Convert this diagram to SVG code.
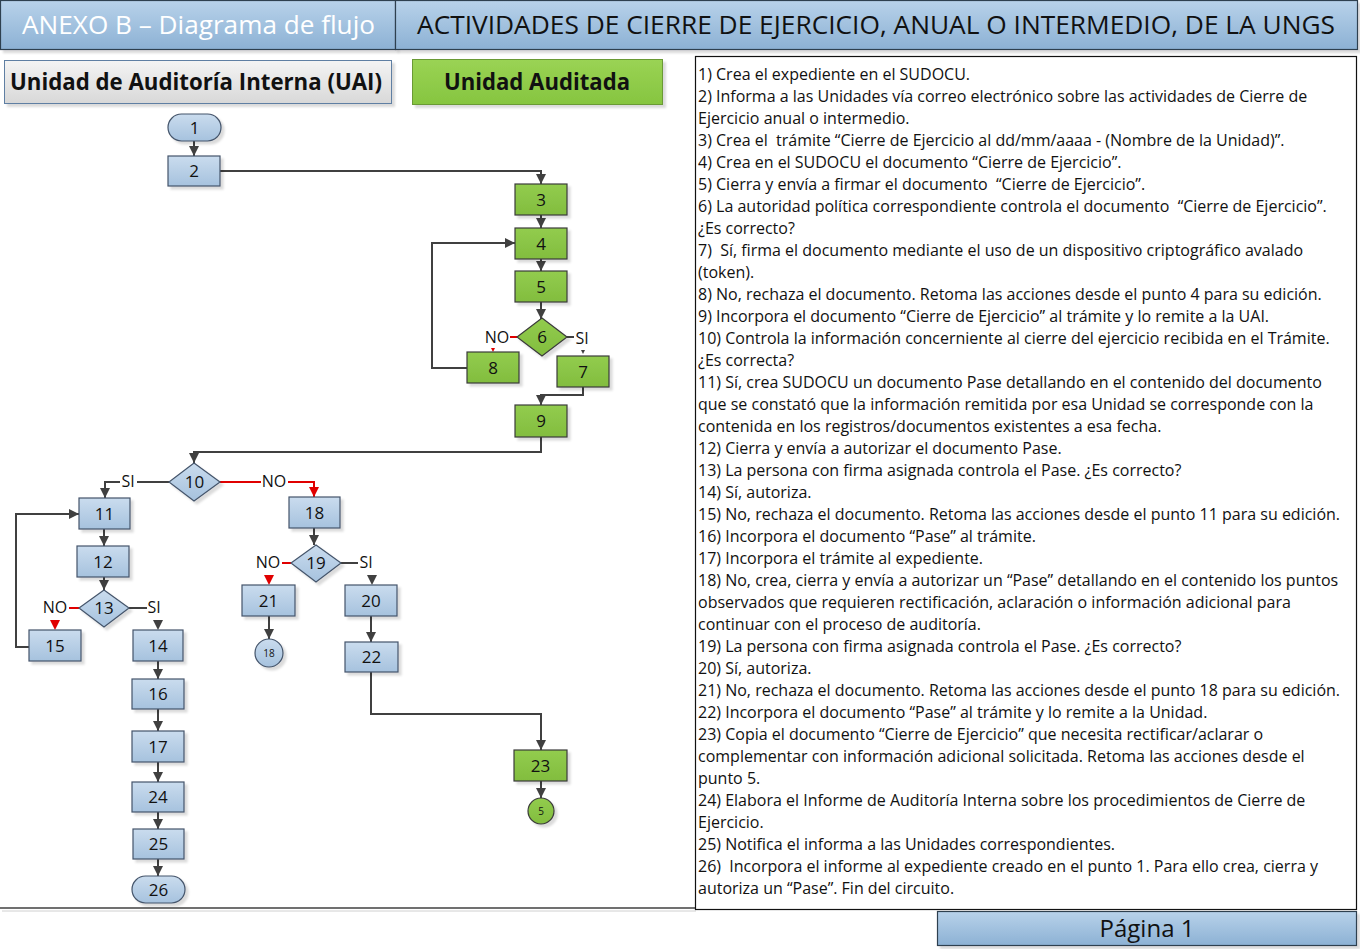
<svg xmlns="http://www.w3.org/2000/svg" width="1360" height="949" viewBox="0 0 1360 949">
<style>
.hdr{stroke:#2f3f4f;stroke-width:1.2}
.blue{fill:url(#gBlue);stroke:#44546a;stroke-width:1.2}
.green{fill:url(#gGreen);stroke:#3a3a3a;stroke-width:1.2}
.num{font-family:"Open Sans","Noto Sans",sans-serif;font-size:17px;fill:#111;text-anchor:middle;dominant-baseline:central}
.sm{font-family:"Open Sans","Noto Sans",sans-serif;font-size:10px;fill:#111;text-anchor:middle;dominant-baseline:central}
.lbl{font-family:"Open Sans","Noto Sans",sans-serif;font-size:16px;fill:#111;text-anchor:middle;dominant-baseline:central}
.c{fill:none;stroke:#404040;stroke-width:2}
.r{fill:none;stroke:#e00000;stroke-width:2}
.panel{font-family:"Open Sans","Noto Sans",sans-serif;font-size:16px;fill:#111}
.sh{filter:url(#shadow)}
</style>
<defs>
<linearGradient id="gBlue" x1="0" y1="0" x2="0" y2="1"><stop offset="0" stop-color="#cadcee"/><stop offset="1" stop-color="#a6c2de"/></linearGradient>
<linearGradient id="gGreen" x1="0" y1="0" x2="0" y2="1"><stop offset="0" stop-color="#92cc4e"/><stop offset="1" stop-color="#82bd3e"/></linearGradient>
<linearGradient id="gHdr" x1="0" y1="0" x2="0" y2="1"><stop offset="0" stop-color="#b8d2ea"/><stop offset="1" stop-color="#8cb1d4"/></linearGradient>
<linearGradient id="gGray" x1="0" y1="0" x2="0" y2="1"><stop offset="0" stop-color="#f4f4f4"/><stop offset="1" stop-color="#d8d8d8"/></linearGradient>
<linearGradient id="gLane" x1="0" y1="0" x2="0" y2="1"><stop offset="0" stop-color="#9ad354"/><stop offset="1" stop-color="#86c540"/></linearGradient>
<filter id="shadow" x="-20%" y="-20%" width="150%" height="150%"><feDropShadow dx="3" dy="3" stdDeviation="1.2" flood-color="#000" flood-opacity="0.14"/></filter>
<marker id="ar" viewBox="0 0 10 10" refX="10" refY="5" markerWidth="10" markerHeight="10" markerUnits="userSpaceOnUse" orient="auto"><path d="M0,0 L10,5 L0,10 z" fill="#404040"/></marker>
<marker id="arR" viewBox="0 0 10 10" refX="10" refY="5" markerWidth="10" markerHeight="10" markerUnits="userSpaceOnUse" orient="auto"><path d="M0,0 L10,5 L0,10 z" fill="#e00000"/></marker>
</defs>
<rect width="1360" height="949" fill="#fff"/>

<!-- Header -->
<g id="header">
<rect class="hdr sh" x="0.5" y="0.5" width="395" height="49" fill="url(#gHdr)"/>
<rect class="hdr sh" x="395.5" y="0.5" width="962" height="49" fill="url(#gHdr)"/>
<text x="22" y="24" font-family="'Open Sans','Noto Sans',sans-serif" font-size="26" fill="#fff" dominant-baseline="central" textLength="353" lengthAdjust="spacingAndGlyphs">ANEXO B – Diagrama de flujo</text>
<text x="417" y="24" font-family="'Open Sans','Noto Sans',sans-serif" font-size="26" fill="#111" dominant-baseline="central" textLength="918" lengthAdjust="spacingAndGlyphs">ACTIVIDADES DE CIERRE DE EJERCICIO, ANUAL O INTERMEDIO, DE LA UNGS</text>
</g>

<g id="lane-uai">
<rect class="sh" x="4.5" y="60.5" width="387" height="43" fill="url(#gGray)" stroke="#5f7fa3" stroke-width="1"/>
<text x="196" y="81" font-family="'Open Sans','Noto Sans',sans-serif" font-size="23" font-weight="bold" fill="#111" text-anchor="middle" dominant-baseline="central" textLength="372" lengthAdjust="spacingAndGlyphs">Unidad de Auditoría Interna (UAI)</text>
</g>
<g id="lane-auditada">
<rect class="sh" x="412.5" y="59.5" width="250" height="45" fill="url(#gLane)" stroke="#6a9a36" stroke-width="1"/>
<text x="537" y="81" font-family="'Open Sans','Noto Sans',sans-serif" font-size="23" font-weight="bold" fill="#111" text-anchor="middle" dominant-baseline="central" textLength="186" lengthAdjust="spacingAndGlyphs">Unidad Auditada</text>
</g>

<!-- Connectors -->
<g id="connectors">
<path class="c" d="M194,141 V156" marker-end="url(#ar)"/>
<path class="c" d="M220,171 H541 V184" marker-end="url(#ar)"/>
<path class="c" d="M541,215 V228" marker-end="url(#ar)"/>
<path class="c" d="M541,259 V271" marker-end="url(#ar)"/>
<path class="c" d="M541,302 V319" marker-end="url(#ar)"/>
<path class="r" d="M517,337 H510"/>
<path d="M491,348 L495,348 L493,352 z" fill="#e00000"/>
<path class="c" d="M567,337 H574"/>
<path d="M581,350 L585,350 L583,354 z" fill="#404040"/>
<path class="c" d="M467,368 H432 V243 H515" marker-end="url(#ar)"/>
<path class="c" d="M583,387 V395 H541 V405" marker-end="url(#ar)"/>
<path class="c" d="M541,437 V452 H194 V463" marker-end="url(#ar)"/>
<path class="c" d="M169,482 H137"/>
<path class="c" d="M120,482 H105 V498" marker-end="url(#ar)"/>
<path class="r" d="M220,482 H261"/>
<path class="r" d="M288,482 H314 V497" marker-end="url(#arR)"/>
<path class="c" d="M104,529 V546" marker-end="url(#ar)"/>
<path class="c" d="M104,577 V590" marker-end="url(#ar)"/>
<path class="r" d="M79,608 H69"/>
<path d="M50,620 L60,620 L55,630 z" fill="#e00000"/>
<path class="c" d="M129,608 H147"/>
<path d="M153,620 L163,620 L158,630 z" fill="#404040"/>
<path class="c" d="M29,647 H16 V514 H79" marker-end="url(#ar)"/>
<path class="c" d="M158,661 V679" marker-end="url(#ar)"/>
<path class="c" d="M158,709 V731" marker-end="url(#ar)"/>
<path class="c" d="M158,762 V782" marker-end="url(#ar)"/>
<path class="c" d="M158,812 V829" marker-end="url(#ar)"/>
<path class="c" d="M158,859 V876" marker-end="url(#ar)"/>
<path class="c" d="M314,528 V545" marker-end="url(#ar)"/>
<path class="r" d="M291,563 H282"/>
<path d="M264,575 L274,575 L269,585 z" fill="#e00000"/>
<path class="c" d="M341,563 H358"/>
<path d="M367,575 L377,575 L372,585 z" fill="#404040"/>
<path class="c" d="M269,616 V639" marker-end="url(#ar)"/>
<path class="c" d="M371,616 V642" marker-end="url(#ar)"/>
<path class="c" d="M371,672 V714 H541 V750" marker-end="url(#ar)"/>
<path class="c" d="M541,781 V798" marker-end="url(#ar)"/>
<text class="lbl" x="497" y="337">NO</text>
<text class="lbl" x="582" y="338">SI</text>
<text class="lbl" x="128" y="481">SI</text>
<text class="lbl" x="274" y="481">NO</text>
<text class="lbl" x="55" y="607">NO</text>
<text class="lbl" x="154" y="607">SI</text>
<text class="lbl" x="268" y="562">NO</text>
<text class="lbl" x="366" y="562">SI</text>
</g>

<!-- Nodes -->
<g id="n1"><rect class="blue sh" x="168" y="114" width="53" height="27" rx="13.5"/><text class="num" x="194.5" y="127">1</text></g>
<g id="n2"><rect class="blue sh" x="168" y="156" width="52" height="30"/><text class="num" x="194" y="170.5">2</text></g>
<g id="n3"><rect class="green sh" x="515" y="184" width="52" height="31"/><text class="num" x="541" y="199">3</text></g>
<g id="n4"><rect class="green sh" x="515" y="228" width="52" height="31"/><text class="num" x="541" y="243">4</text></g>
<g id="n5"><rect class="green sh" x="515" y="271" width="52" height="31"/><text class="num" x="541" y="286">5</text></g>
<g id="n6"><path class="green sh" d="M542,318 L567,337 L542,356 L517,337 z"/><text class="num" x="542" y="336.5">6</text></g>
<g id="n7"><rect class="green sh" x="557" y="356" width="52" height="31"/><text class="num" x="583" y="371">7</text></g>
<g id="n8"><rect class="green sh" x="467" y="352" width="52" height="31"/><text class="num" x="493" y="367">8</text></g>
<g id="n9"><rect class="green sh" x="515" y="405" width="52" height="32"/><text class="num" x="541" y="420.5">9</text></g>
<g id="n10"><path class="blue sh" d="M194,463 L220,482 L194,501 L169,482 z"/><text class="num" x="194.5" y="481.5">10</text></g>
<g id="n11"><rect class="blue sh" x="79" y="498" width="51" height="31"/><text class="num" x="104.5" y="513">11</text></g>
<g id="n12"><rect class="blue sh" x="77" y="546" width="52" height="31"/><text class="num" x="103" y="561">12</text></g>
<g id="n13"><path class="blue sh" d="M104,590 L129,608 L104,627 L79,608 z"/><text class="num" x="104" y="607.5">13</text></g>
<g id="n14"><rect class="blue sh" x="133" y="630" width="50" height="31"/><text class="num" x="158" y="645">14</text></g>
<g id="n15"><rect class="blue sh" x="29" y="630" width="52" height="31"/><text class="num" x="55" y="645">15</text></g>
<g id="n16"><rect class="blue sh" x="132" y="679" width="52" height="30"/><text class="num" x="158" y="693.5">16</text></g>
<g id="n17"><rect class="blue sh" x="132" y="731" width="52" height="31"/><text class="num" x="158" y="746">17</text></g>
<g id="n24"><rect class="blue sh" x="132" y="782" width="52" height="30"/><text class="num" x="158" y="796.5">24</text></g>
<g id="n25"><rect class="blue sh" x="133" y="829" width="51" height="30"/><text class="num" x="158.5" y="843.5">25</text></g>
<g id="n26"><rect class="blue sh" x="132" y="876" width="53" height="27" rx="13.5"/><text class="num" x="158.5" y="889">26</text></g>
<g id="n18"><rect class="blue sh" x="289" y="497" width="51" height="31"/><text class="num" x="314.5" y="512">18</text></g>
<g id="n19"><path class="blue sh" d="M316,545 L341,563 L316,582 L291,563 z"/><text class="num" x="316" y="562.5">19</text></g>
<g id="n20"><rect class="blue sh" x="345" y="585" width="52" height="31"/><text class="num" x="371" y="600">20</text></g>
<g id="n21"><rect class="blue sh" x="242" y="585" width="53" height="31"/><text class="num" x="268.5" y="600">21</text></g>
<g id="n22"><rect class="blue sh" x="345" y="642" width="53" height="30"/><text class="num" x="371.5" y="656.5">22</text></g>
<g id="n23"><rect class="green sh" x="514" y="750" width="53" height="31"/><text class="num" x="540.5" y="765">23</text></g>
<g id="c18"><circle class="blue sh" cx="269" cy="653" r="14"/><text class="sm" x="269" y="653">18</text></g>
<g id="c5"><circle class="green sh" cx="541" cy="811" r="13"/><text class="sm" x="541" y="811">5</text></g>

<!-- Bottom lines -->
<g id="footer">
<line x1="0" y1="908" x2="696" y2="908" stroke="#404040" stroke-width="1.5"/>
<line x1="2" y1="911" x2="696" y2="911" stroke="#d0d0d0" stroke-width="1"/>
<rect class="hdr sh" x="937.5" y="911.5" width="419" height="34" fill="url(#gHdr)"/>
<text x="1147" y="927" font-family="'Open Sans','Noto Sans',sans-serif" font-size="24" fill="#111" text-anchor="middle" dominant-baseline="central">Página 1</text>
</g>

<!-- Panel -->
<g id="panel">
<rect x="695.5" y="56.5" width="661" height="853" fill="#fff" stroke="#111" stroke-width="1.2"/>
<text class="panel" xml:space="preserve">
<tspan x="698" y="80">1) Crea el expediente en el SUDOCU.</tspan>
<tspan x="698" y="102">2) Informa a las Unidades vía correo electrónico sobre las actividades de Cierre de</tspan>
<tspan x="698" y="124">Ejercicio anual o intermedio.</tspan>
<tspan x="698" y="146">3) Crea el  trámite “Cierre de Ejercicio al dd/mm/aaaa - (Nombre de la Unidad)”.</tspan>
<tspan x="698" y="168">4) Crea en el SUDOCU el documento “Cierre de Ejercicio”.</tspan>
<tspan x="698" y="190">5) Cierra y envía a firmar el documento  “Cierre de Ejercicio”.</tspan>
<tspan x="698" y="212">6) La autoridad política correspondiente controla el documento  “Cierre de Ejercicio”.</tspan>
<tspan x="698" y="234">¿Es correcto?</tspan>
<tspan x="698" y="256">7)  Sí, firma el documento mediante el uso de un dispositivo criptográfico avalado</tspan>
<tspan x="698" y="278">(token).</tspan>
<tspan x="698" y="300">8) No, rechaza el documento. Retoma las acciones desde el punto 4 para su edición.</tspan>
<tspan x="698" y="322">9) Incorpora el documento “Cierre de Ejercicio” al trámite y lo remite a la UAI.</tspan>
<tspan x="698" y="344">10) Controla la información concerniente al cierre del ejercicio recibida en el Trámite.</tspan>
<tspan x="698" y="366">¿Es correcta?</tspan>
<tspan x="698" y="388">11) Sí, crea SUDOCU un documento Pase detallando en el contenido del documento</tspan>
<tspan x="698" y="410">que se constató que la información remitida por esa Unidad se corresponde con la</tspan>
<tspan x="698" y="432">contenida en los registros/documentos existentes a esa fecha.</tspan>
<tspan x="698" y="454">12) Cierra y envía a autorizar el documento Pase.</tspan>
<tspan x="698" y="476">13) La persona con firma asignada controla el Pase. ¿Es correcto?</tspan>
<tspan x="698" y="498">14) Sí, autoriza.</tspan>
<tspan x="698" y="520">15) No, rechaza el documento. Retoma las acciones desde el punto 11 para su edición.</tspan>
<tspan x="698" y="542">16) Incorpora el documento “Pase” al trámite.</tspan>
<tspan x="698" y="564">17) Incorpora el trámite al expediente.</tspan>
<tspan x="698" y="586">18) No, crea, cierra y envía a autorizar un “Pase” detallando en el contenido los puntos</tspan>
<tspan x="698" y="608">observados que requieren rectificación, aclaración o información adicional para</tspan>
<tspan x="698" y="630">continuar con el proceso de auditoría.</tspan>
<tspan x="698" y="652">19) La persona con firma asignada controla el Pase. ¿Es correcto?</tspan>
<tspan x="698" y="674">20) Sí, autoriza.</tspan>
<tspan x="698" y="696">21) No, rechaza el documento. Retoma las acciones desde el punto 18 para su edición.</tspan>
<tspan x="698" y="718">22) Incorpora el documento “Pase” al trámite y lo remite a la Unidad.</tspan>
<tspan x="698" y="740">23) Copia el documento “Cierre de Ejercicio” que necesita rectificar/aclarar o</tspan>
<tspan x="698" y="762">complementar con información adicional solicitada. Retoma las acciones desde el</tspan>
<tspan x="698" y="784">punto 5.</tspan>
<tspan x="698" y="806">24) Elabora el Informe de Auditoría Interna sobre los procedimientos de Cierre de</tspan>
<tspan x="698" y="828">Ejercicio.</tspan>
<tspan x="698" y="850">25) Notifica el informa a las Unidades correspondientes.</tspan>
<tspan x="698" y="872">26)  Incorpora el informe al expediente creado en el punto 1. Para ello crea, cierra y</tspan>
<tspan x="698" y="894">autoriza un “Pase”. Fin del circuito.</tspan>
</text>
</g>
</svg>
